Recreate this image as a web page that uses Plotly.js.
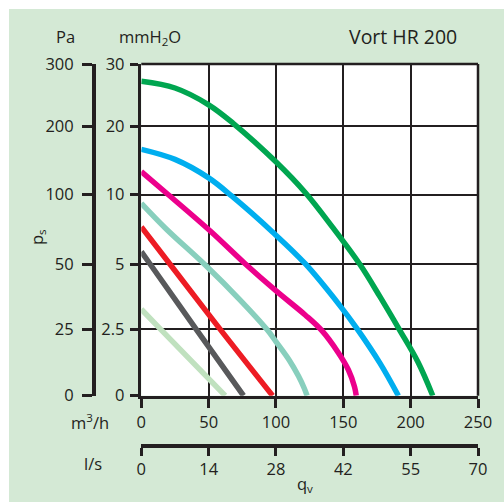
<!DOCTYPE html>
<html>
<head>
<meta charset="utf-8">
<script src="https://cdn.plot.ly/plotly-3.0.1.min.js"></script>
<style>
  html, body { margin: 0; padding: 0; background: #ffffff; }
  #chart { position: absolute; left: 9px; top: 9px; width: 495px; height: 493px; }
</style>
</head>
<body>
<div id="chart"></div>
<script>
// ---- Data ----
// Flow q_v in m3/h, static pressure p_s in Pa
const greenQ   = [0, 25, 50, 68.2, 100.1, 121.7, 142.1, 162.5, 177.3, 191.4, 205.5, 216.4];
const greenPa  = [272.1, 261.3, 234.2, 204.4, 147.6, 103.2, 76.4, 49.7, 37.4, 25.1, 12.6, 0];
const blueQ    = [0, 25, 50, 67.3, 97.2, 121.7, 147.6, 160, 177.3, 190.9];
const bluePa   = [166.1, 151.4, 124.5, 98.9, 73.3, 50.2, 34.0, 25.4, 12.2, 0];
const magentaQ = [0, 20.3, 51.2, 77.1, 100.1, 121.7, 134.1, 146.4, 153.8, 158.3, 159.6];
const magentaPa= [133.5, 99.8, 73.8, 50.2, 39.7, 30.5, 24.5, 16.1, 9.7, 3.4, 0];
const tealQ    = [0, 18.5, 47.5, 73.4, 93.2, 100.1, 110, 116.7, 120.9, 123.1];
const tealPa   = [93.8, 75.3, 49.6, 36.2, 25, 20.3, 13.3, 7.4, 2.9, 0];
const redQ     = [0, 21.2, 58.6, 97.5];
const redPa    = [76.7, 50, 25, 0];
const grayQ    = [0, 6.5, 40.8, 75.9];
const grayPa   = [58.9, 50, 25, 0];
const lightQ   = [0, 14.4, 62.3];
const lightPa  = [32.7, 25, 0];

// Tick labels
const flowTicks   = [0, 50, 100, 150, 200, 250];          // m3/h
const lsLabels    = ['0', '14', '28', '42', '55', '70'];   // l/s
const paTicks     = [0, 25, 50, 100, 200, 300];            // Pa
const mmLabels    = ['0', '2.5', '5', '10', '20', '30'];   // mmH2O
const paLabels    = ['0', '25', '50', '100', '200', '300'];

// Reference pressure scale: positions of the Pa grid lines (grid units)
const scalePos = [0, 1.0, 1.985, 3.03, 4.065, 5];

function paToPos(p) {
  for (let i = 0; i < paTicks.length - 1; i++) {
    if (p <= paTicks[i + 1]) {
      const t = (p - paTicks[i]) / (paTicks[i + 1] - paTicks[i]);
      return scalePos[i] + t * (scalePos[i + 1] - scalePos[i]);
    }
  }
  return scalePos[scalePos.length - 1];
}

const ink = '#231f20';
const series = [
  [lightQ, lightPa, '#c0e1bf'],
  [grayQ, grayPa, '#58595b'],
  [redQ, redPa, '#ed1c24'],
  [tealQ, tealPa, '#88cfbd'],
  [magentaQ, magentaPa, '#ec008c'],
  [blueQ, bluePa, '#00aeef'],
  [greenQ, greenPa, '#00a650']
];

const traces = series.map(([q, p, c]) => ({
  type: 'scatter', mode: 'lines', x: q, y: p.map(paToPos),
  line: { color: c, width: 5.5, shape: 'spline', smoothing: 1, simplify: false },
  hoverinfo: 'skip', showlegend: false
}));
// empty traces so the secondary (Pa / l/s) axes get drawn
traces.push({ type: 'scatter', mode: 'lines', x: [], y: [], xaxis: 'x', yaxis: 'y2', showlegend: false, hoverinfo: 'skip' });
traces.push({ type: 'scatter', mode: 'lines', x: [], y: [], xaxis: 'x2', yaxis: 'y', showlegend: false, hoverinfo: 'skip' });

// ---- geometry helpers (div pixels -> paper) ----
const W = 495, H = 493, ML = 0, MR = 26, MT = 55, MB = 20;
const PW = W - ML - MR, PH = H - MT - MB;
const px = x => (x - ML) / PW;
const py = y => (H - MB - y) / PH;

const font = { family: 'Open Sans, Noto Sans, sans-serif', size: 16.5, color: ink };

const layout = {
  width: W, height: H,
  margin: { l: ML, r: MR, t: MT, b: MB, pad: 0 },
  paper_bgcolor: '#d4e9d5',
  plot_bgcolor: '#ffffff',
  font: font,
  showlegend: false,
  xaxis: {
    domain: [px(132.3), 1], range: [0, 250],
    tickmode: 'array', tickvals: flowTicks, ticktext: flowTicks.map(String),
    ticks: 'outside', ticklen: 9, tickwidth: 3, tickcolor: ink,
    showline: true, linewidth: 3.5, linecolor: ink,
    showgrid: true, gridcolor: ink, gridwidth: 2, zeroline: false,
    tickfont: font, fixedrange: true
  },
  yaxis: {
    domain: [py(386.7), 1], range: [0, 5],
    tickmode: 'array', tickvals: scalePos, ticktext: mmLabels,
    ticks: 'outside', ticklen: 8, tickwidth: 3, tickcolor: ink,
    showline: true, linewidth: 3.5, linecolor: ink,
    showgrid: true, gridcolor: ink, gridwidth: 2, zeroline: false,
    ticklabelstandoff: 2,
    tickfont: font, fixedrange: true
  },
  yaxis2: {
    overlaying: 'y', anchor: 'free', position: px(84), side: 'left',
    range: [0, 5], tickmode: 'array', tickvals: scalePos, ticktext: paLabels,
    ticks: 'outside', ticklen: 10, tickwidth: 3, tickcolor: ink,
    showline: true, linewidth: 3.5, linecolor: ink,
    showgrid: false, zeroline: false, ticklabelstandoff: 5,
    tickfont: font, fixedrange: true
  },
  xaxis2: {
    overlaying: 'x', anchor: 'free', position: py(436), side: 'bottom',
    range: [0, 250], tickmode: 'array', tickvals: flowTicks, ticktext: lsLabels,
    ticks: 'outside', ticklen: 8, tickwidth: 3, tickcolor: ink,
    showline: true, linewidth: 3.5, linecolor: ink,
    showgrid: false, zeroline: false, tickfont: font, fixedrange: true
  },
  shapes: [
    { type: 'line', xref: 'paper', yref: 'paper', x0: px(132.3), x1: 1, y0: 1, y1: 1, line: { color: ink, width: 2.5 } },
    { type: 'line', xref: 'paper', yref: 'paper', x0: 1, x1: 1, y0: py(386.7), y1: 1, line: { color: ink, width: 2.5 } }
  ],
  annotations: [
    { text: 'Pa', x: px(56), y: py(28), xref: 'paper', yref: 'paper', showarrow: false, font: font, xanchor: 'center', yanchor: 'middle' },
    { text: 'mmH<sub>2</sub>O', x: px(141), y: py(28), xref: 'paper', yref: 'paper', showarrow: false, font: font, xanchor: 'center', yanchor: 'middle' },
    { text: 'Vort HR 200', x: px(394), y: py(27), xref: 'paper', yref: 'paper', showarrow: false, font: Object.assign({}, font, { size: 19.5 }), xanchor: 'center', yanchor: 'middle' },
    { text: 'm<sup>3</sup>/h', x: px(80.5), y: py(412.7), xref: 'paper', yref: 'paper', showarrow: false, font: font, xanchor: 'center', yanchor: 'middle' },
    { text: 'l/s', x: px(84), y: py(454), xref: 'paper', yref: 'paper', showarrow: false, font: font, xanchor: 'center', yanchor: 'middle' },
    { text: 'q<sub>v</sub>', x: px(296), y: py(475), xref: 'paper', yref: 'paper', showarrow: false, font: font, xanchor: 'center', yanchor: 'middle' },
    { text: 'p<sub>s</sub>', x: px(28), y: py(228), xref: 'paper', yref: 'paper', showarrow: false, font: font, textangle: -90, xanchor: 'center', yanchor: 'middle' }
  ]
};

Plotly.newPlot('chart', traces, layout, { staticPlot: true, displayModeBar: false });
</script>
</body>
</html>
